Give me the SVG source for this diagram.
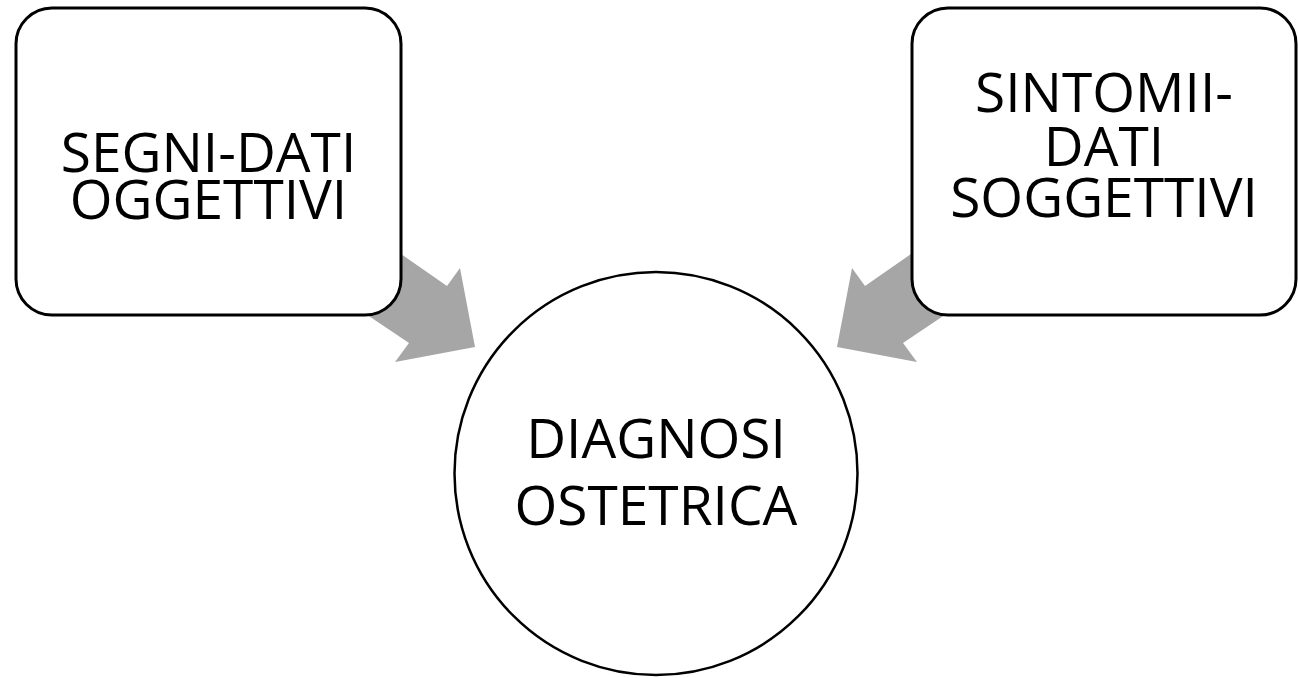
<svg xmlns="http://www.w3.org/2000/svg" width="1298" height="678" viewBox="0 0 1298 678">
<style>
.box{fill:#ffffff;stroke:#000000;stroke-width:3}
.circ{fill:#ffffff;stroke:#000000;stroke-width:2.5}
.arrow{fill:#a6a6a6;stroke:none}
.lbl{font-family:"Open Sans","Noto Sans",sans-serif;font-size:55px;fill:#000000;text-anchor:middle}
</style>
<rect width="1298" height="678" fill="#ffffff"/>
<g id="connectors">
<polygon class="arrow" points="378,238 447,286 460,268 475,347 395,362 409,343 345,300"/>
<polygon class="arrow" points="934,238 865,286 852,268 837,347 917,362 903,343 967,300"/>
</g>
<g id="node-segni">
<rect class="box" x="16" y="8" width="385" height="307" rx="36" ry="36"/>
<text class="lbl"><tspan x="208.5" y="172">SEGNI-DATI</tspan><tspan x="208.5" y="219">OGGETTIVI</tspan></text>
</g>
<g id="node-sintomi">
<rect class="box" x="912" y="8" width="384" height="307" rx="36" ry="36"/>
<text class="lbl"><tspan x="1104" y="112">SINTOMII-</tspan><tspan x="1104" y="166">DATI</tspan><tspan x="1104" y="217">SOGGETTIVI</tspan></text>
</g>
<g id="node-diagnosi">
<circle class="circ" cx="656" cy="473.5" r="201.5"/>
<text class="lbl"><tspan x="656" y="458">DIAGNOSI</tspan><tspan x="656" y="525">OSTETRICA</tspan></text>
</g>
</svg>
